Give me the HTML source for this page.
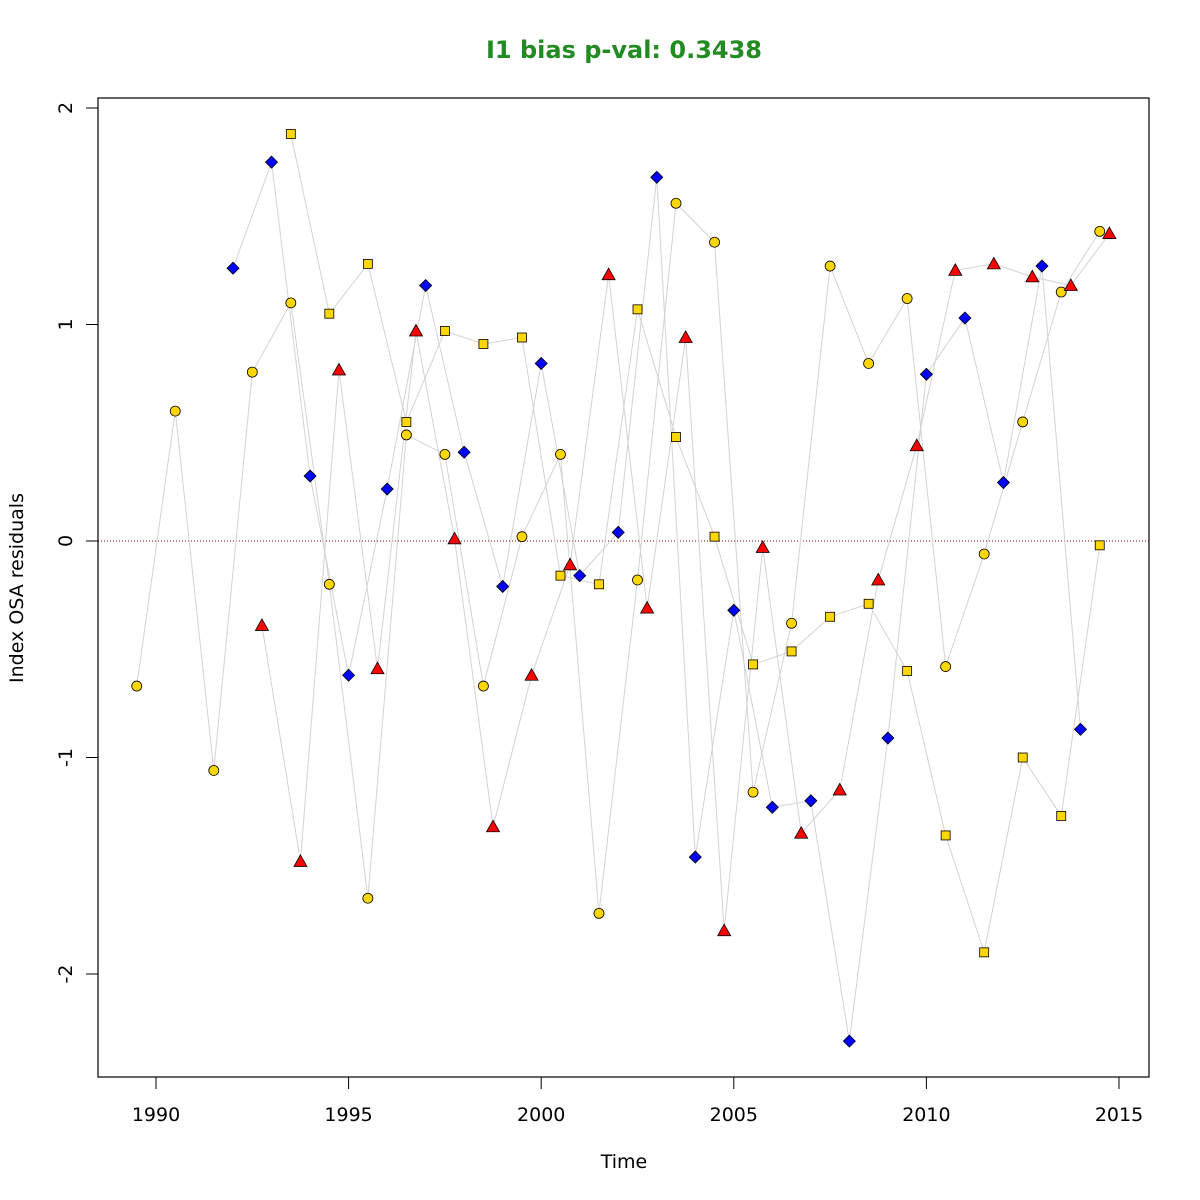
<!DOCTYPE html>
<html><head><meta charset="utf-8">
<style>
html,body{margin:0;padding:0;background:#fff;}
svg{display:block;font-family:"DejaVu Sans","Liberation Sans",sans-serif;}
</style></head>
<body>
<svg id="chart" width="1200" height="1200" viewBox="0 0 1200 1200">
<rect width="1200" height="1200" fill="#fff"/>
<text x="624" y="58" text-anchor="middle" font-size="24" font-weight="bold" fill="#228B22">I1 bias p-val: 0.3438</text>
<text x="624" y="1168" text-anchor="middle" font-size="19" fill="#000">Time</text>
<text transform="translate(23,588) rotate(-90)" text-anchor="middle" font-size="19" fill="#000">Index OSA residuals</text>
<g id="axes"></g>
<g id="lines"></g>
<g id="marks"></g>
<rect x="98" y="98" width="1051" height="979" fill="none" stroke="#000" stroke-width="1.2"/>
</svg>
<script>
const xTicks = [1990, 1995, 2000, 2005, 2010, 2015];
const yTicks = [-2, -1, 0, 1, 2];
const circleYears = [1989.5,1990.5,1991.5,1992.5,1993.5,1994.5,1995.5,1996.5,1997.5,1998.5,1999.5,2000.5,2001.5,2002.5,2003.5,2004.5,2005.5,2006.5,2007.5,2008.5,2009.5,2010.5,2011.5,2012.5,2013.5,2014.5];
const circleVals = [-0.67,0.60,-1.06,0.78,1.10,-0.20,-1.65,0.49,0.40,-0.67,0.02,0.40,-1.72,-0.18,1.56,1.38,-1.16,-0.38,1.27,0.82,1.12,-0.58,-0.06,0.55,1.15,1.43];
const squareYears = [1993.5,1994.5,1995.5,1996.5,1997.5,1998.5,1999.5,2000.5,2001.5,2002.5,2003.5,2004.5,2005.5,2006.5,2007.5,2008.5,2009.5,2010.5,2011.5,2012.5,2013.5,2014.5];
const squareVals = [1.88,1.05,1.28,0.55,0.97,0.91,0.94,-0.16,-0.20,1.07,0.48,0.02,-0.57,-0.51,-0.35,-0.29,-0.60,-1.36,-1.90,-1.00,-1.27,-0.02];
const diamondYears = [1992,1993,1994,1995,1996,1997,1998,1999,2000,2001,2002,2003,2004,2005,2006,2007,2008,2009,2010,2011,2012,2013,2014];
const diamondVals = [1.26,1.75,0.30,-0.62,0.24,1.18,0.41,-0.21,0.82,-0.16,0.04,1.68,-1.46,-0.32,-1.23,-1.20,-2.31,-0.91,0.77,1.03,0.27,1.27,-0.87];
const triangleYears = [1992.75,1993.75,1994.75,1995.75,1996.75,1997.75,1998.75,1999.75,2000.75,2001.75,2002.75,2003.75,2004.75,2005.75,2006.75,2007.75,2008.75,2009.75,2010.75,2011.75,2012.75,2013.75,2014.75];
const triangleVals = [-0.39,-1.48,0.79,-0.59,0.97,0.01,-1.32,-0.62,-0.11,1.23,-0.31,0.94,-1.80,-0.03,-1.35,-1.15,-0.18,0.44,1.25,1.28,1.22,1.18,1.42];

const NS = "http://www.w3.org/2000/svg";
function xs(t){ return 156 + (t - 1990) * (1119 - 156) / 25; }
function ys(v){ return 541 - v * 216.5; }
function mk(tag, attrs, parent){
  const e = document.createElementNS(NS, tag);
  for (const k in attrs) e.setAttribute(k, attrs[k]);
  parent.appendChild(e);
  return e;
}
const axes = document.getElementById('axes');
const lines = document.getElementById('lines');
const marks = document.getElementById('marks');

xTicks.forEach(t => {
  const l = mk('line', {x1: xs(t), x2: xs(t), y1: 1077, y2: 1089, stroke: '#000', 'stroke-width': 1}, axes);
  
  
  const tx = mk('text', {x: xs(t), y: 1121, 'text-anchor': 'middle', 'font-size': 19, fill: '#000'}, axes);
  tx.textContent = t;
  
  
});
yTicks.forEach(v => {
  const l = mk('line', {x1: 86, x2: 98, y1: ys(v), y2: ys(v), stroke: '#000', 'stroke-width': 1}, axes);
  
  
  const tx = mk('text', {transform: 'translate(72,' + ys(v) + ') rotate(-90)', 'text-anchor': 'middle', 'font-size': 19, fill: '#000'}, axes);
  tx.textContent = v;
  
  
});
const zl = mk('line', {x1: 98, x2: 1149, y1: ys(0), y2: ys(0), stroke: '#8B0000', 'stroke-width': 1, 'stroke-dasharray': '1,2'}, axes);



function series(years, vals, name, drawMark){
  const pts = years.map((t, i) => xs(t) + ',' + ys(vals[i])).join(' ');
  const pl = mk('polyline', {points: pts, fill: 'none', stroke: '#d3d3d3', 'stroke-width': 1}, lines);
  
  
  years.forEach((t, i) => {
    const e = drawMark(xs(t), ys(vals[i]));
    
    
  });
}
series(circleYears, circleVals, 'circle-series', (x, y) => mk('circle', {cx: x, cy: y, r: 5, fill: '#FFD700', stroke: '#000', 'stroke-width': 0.8}, marks));
series(squareYears, squareVals, 'square-series', (x, y) => mk('rect', {x: x - 4.5, y: y - 4.5, width: 9, height: 9, fill: '#FFD700', stroke: '#000', 'stroke-width': 0.8}, marks));
series(diamondYears, diamondVals, 'diamond-series', (x, y) => mk('polygon', {points: x + ',' + (y - 6) + ' ' + (x + 6) + ',' + y + ' ' + x + ',' + (y + 6) + ' ' + (x - 6) + ',' + y, fill: '#0000FF', stroke: '#000', 'stroke-width': 0.8}, marks));
series(triangleYears, triangleVals, 'triangle-series', (x, y) => mk('polygon', {points: x + ',' + (y - 6.5) + ' ' + (x + 6.5) + ',' + (y + 5) + ' ' + (x - 6.5) + ',' + (y + 5), fill: '#FF0000', stroke: '#000', 'stroke-width': 0.8}, marks));
</script>
</body></html>
